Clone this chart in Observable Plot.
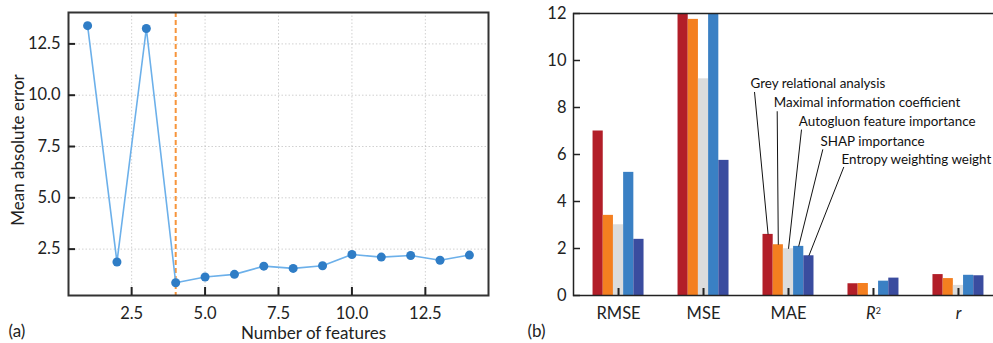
<!DOCTYPE html>
<html><head><meta charset="utf-8">
<script src="https://cdn.jsdelivr.net/npm/d3@7"></script>
<script src="https://cdn.jsdelivr.net/npm/@observablehq/plot@0.6"></script>
<style>
html,body{margin:0;padding:0;background:#fff;}
#wrap{position:relative;width:993px;height:343px;overflow:hidden;background:#fff;}
#a{position:absolute;left:0;top:0;width:500px;}
#b{position:absolute;left:500px;top:0;width:520px;}
#wrap svg{max-width:none !important;display:block;}
</style></head><body><div id="wrap"><div id="a"></div><div id="b"></div></div>
<script>
// ---- Panel (a) data ----
const nFeatures = [1,2,3,4,5,6,7,8,9,10,11,12,13,14];
const maeByFeatures = [13.39,1.87,13.25,0.86,1.14,1.27,1.67,1.56,1.69,2.24,2.11,2.19,1.96,2.21];
const selectedFeatures = [4];
const xTicksA = [2.5,5,7.5,10,12.5];
const yTicksA = [2.5,5,7.5,10,12.5];

// ---- Panel (b) data ----
const metrics = ["RMSE","MSE","MAE","R²","r"];
const methods = ["Grey relational analysis","Maximal information coefficient","Autogluon feature importance","SHAP importance","Entropy weighting weight"];
const greyRelational = [7.00, 49.0, 2.60, 0.50, 0.89];
const maximalInfo    = [3.41, 11.75, 2.16, 0.51, 0.72];
const autogluon      = [3.01, 9.22, 1.99, 0.00, 0.43];
const shapImportance = [5.24, 27.5, 2.09, 0.61, 0.86];
const entropyWeight  = [2.39, 5.75, 1.69, 0.74, 0.84];
const yTicksB = [0,2,4,6,8,10,12];

// ---- styling / layout ----
const colors = ["#b21e28","#f47f20","#dcdcdc","#3a80c4","#3a4c9f"];
const font = "Lato, 'Open Sans', sans-serif";
const barW = 0.12;
// annotation placement (label anchor and leader-line start, in scale units)
const labelX = [1.553,1.827,2.121,2.377,2.624];
const labelY = [9.02,8.21,7.41,6.56,5.79];
const lineStartX = [1.600,1.867,2.153,2.404,2.651];
const lineStartY = [8.66,7.84,7.06,6.22,5.47];

// ---- Panel (a) ----
const wA = 500, hA = 343, mlA = 68, mrA = 12, mtA = 12, mbA = 48;
const iwA = wA - mlA - mrA, ihA = hA - mtA - mbA;
const seriesA = nFeatures.map((n,i)=>({n, v: maeByFeatures[i]}));
const plotA = Plot.plot({
  width: wA, height: hA, marginLeft: mlA, marginRight: mrA, marginTop: mtA, marginBottom: mbA,
  x: {domain: [0.35, 14.65]},
  y: {domain: [0.24, 14.03]},
  style: {fontFamily: font, fontSize: "16px", color: "#222", background: "transparent"},
  marks: [
    Plot.gridX(xTicksA, {stroke: "#999", strokeOpacity: 0.45, strokeDasharray: "1.5,2"}),
    Plot.gridY(yTicksA, {stroke: "#999", strokeOpacity: 0.45, strokeDasharray: "1.5,2"}),
    Plot.ruleX(selectedFeatures, {x: d=>d, stroke: "#f7953b", strokeWidth: 2, strokeDasharray: "5,3"}),
    Plot.line(seriesA, {x: "n", y: "v", stroke: "#6cb0ea", strokeWidth: 1.6}),
    Plot.dot(seriesA, {x: "n", y: "v", r: 4.5, fill: "#2f7dc6"}),
    Plot.frame({stroke: "#333", strokeWidth: 2}),
    Plot.tickX(xTicksA, {x: d=>d, insetTop: ihA - 8, stroke: "#222", strokeWidth: 2}),
    Plot.tickY(yTicksA, {y: d=>d, insetRight: iwA - 7, stroke: "#222", strokeWidth: 2}),
    Plot.axisX(xTicksA, {tickSize: 0, tickPadding: 12, tickFormat: d=>d.toFixed(1), label: null, fontSize: 16.5}),
    Plot.axisY(yTicksA, {tickSize: 0, tickPadding: 8, tickFormat: d=>d.toFixed(1), label: null, fontSize: 16.5}),
    Plot.text(["Number of features"], {text: d=>d, frameAnchor: "bottom", dx: 35, dy: 31, textAnchor: "middle", lineAnchor: "top", fontSize: 17}),
    Plot.text(["Mean absolute error"], {text: d=>d, frameAnchor: "left", rotate: -90, dx: -50, dy: -4, textAnchor: "middle", lineAnchor: "middle", fontSize: 17}),
    Plot.text(["(a)"], {text: d=>d, frameAnchor: "bottom-left", dx: -60, dy: 36, textAnchor: "start", lineAnchor: "middle", fontSize: 17})
  ]
});
document.getElementById("a").appendChild(plotA);

// ---- Panel (b) ----
const series = [greyRelational, maximalInfo, autogluon, shapImportance, entropyWeight];
const bars = methods.flatMap((m,j)=> metrics.map((k,i)=>({i, j, method: m, value: series[j][i]})));
const annots = methods.map((m,j)=>({
  label: m, lx: labelX[j], ly: labelY[j], sx: lineStartX[j], sy: lineStartY[j],
  ex: 2 + (j - 2) * barW, ey: series[j][2]
}));
const wB = 520, hB = 343, mlB = 73, mrB = 17, mtB = 13, mbB = 48;
const iwB = wB - mlB - mrB, ihB = hB - mtB - mbB;
const idx = metrics.map((_,i)=>i);
const plotB = Plot.plot({
  width: wB, height: hB, marginLeft: mlB, marginRight: mrB, marginTop: mtB, marginBottom: mbB,
  x: {type: "linear", domain: [-0.53, 4.53]},
  y: {domain: [0, 12]},
  color: {domain: methods, range: colors},
  style: {fontFamily: font, fontSize: "16px", color: "#222", background: "transparent"},
  marks: [
    Plot.rectY(bars, {x1: d=> d.i + (d.j - 2.5) * barW, x2: d=> d.i + (d.j - 1.5) * barW, y: "value", fill: "method", clip: true}),
    Plot.link(annots, {x1: "sx", y1: "sy", x2: "ex", y2: "ey", stroke: "#111", strokeWidth: 1}),
    Plot.text(annots, {x: "lx", y: "ly", text: "label", textAnchor: "start", lineAnchor: "middle", fontSize: 13.4, fill: "#111"}),
    Plot.frame({stroke: "#222", strokeWidth: 1.5}),
    Plot.tickX(idx, {x: d=>d, insetTop: ihB - 7, stroke: "#222", strokeWidth: 2}),
    Plot.tickY(yTicksB, {y: d=>d, insetRight: iwB - 7, stroke: "#222", strokeWidth: 1.5}),
    Plot.axisX(idx, {tickSize: 0, tickPadding: 12, tickFormat: i=>metrics[i], label: null, fontSize: 16.5}),
    Plot.axisY(yTicksB, {tickSize: 0, tickPadding: 7, label: null, fontSize: 16.5}),
    Plot.text(["(b)"], {text: d=>d, frameAnchor: "bottom-left", dx: -46, dy: 36, textAnchor: "start", lineAnchor: "middle", fontSize: 17})
  ]
});
document.getElementById("b").appendChild(plotB);

// italic math labels
d3.select(plotB).selectAll('[aria-label="x-axis tick label"] text').each(function(){
  const s = this.textContent;
  if (s === "R²") {
    this.textContent = "";
    d3.select(this).append("tspan").attr("font-style","italic").text("R");
    d3.select(this).append("tspan").attr("dy","-0.55em").attr("font-size","9").text("2");
  } else if (s === "r") {
    d3.select(this).attr("font-style","italic");
  }
});
</script></body></html>
